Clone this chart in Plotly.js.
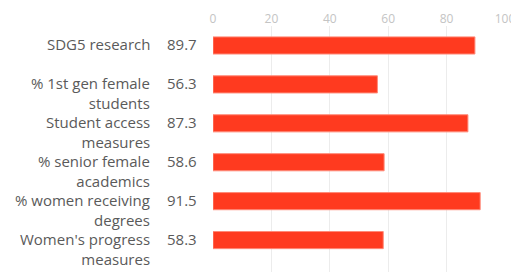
<!DOCTYPE html>
<html><head><meta charset="utf-8">
<script src="https://cdn.plot.ly/plotly-3.0.1.min.js"></script>
<style>html,body{margin:0;padding:0;background:#fff}</style>
</head><body><div id="chart" style="width:511px;height:272px"></div>
<script>
const categories = ["SDG5 research","% 1st gen female<br>students","Student access<br>measures","% senior female<br>academics","% women receiving<br>degrees","Women's progress<br>measures"];
const values = [89.7, 56.3, 87.3, 58.6, 91.5, 58.3];
const valueLabels = ["89.7","56.3","87.3","58.6","91.5","58.3"];
const xTicks = [0,20,40,60,80,100];

const idx = categories.map((c,i)=>i);
const textColor = '#5a5a5a';
const ann = [];
categories.forEach((c,i)=>{
  ann.push({xref:'paper', yref:'y', x:0, y:i, xshift:-62, yshift:12.5, xanchor:'right', yanchor:'top',
    borderpad:0, align:'right',
    text:c, showarrow:false, font:{family:'Open Sans', size:15, color:textColor}});
  ann.push({xref:'paper', yref:'y', x:0, y:i, xshift:-47, yshift:1, xanchor:'left', yanchor:'middle',
    borderpad:0,
    text:valueLabels[i], showarrow:false, font:{family:'Open Sans', size:15, color:textColor}});
});

Plotly.newPlot('chart', [{
  type:'bar', orientation:'h', x:values, y:idx,
  marker:{color:'#ff3a1f', line:{color:'#ff8a78', width:1}},
  width:0.44, hoverinfo:'none'
}], {
  width:511, height:272,
  margin:{l:213, r:6, t:26, b:0, pad:0},
  paper_bgcolor:'#fff', plot_bgcolor:'#fff',
  showlegend:false,
  xaxis:{side:'top', range:[0,100], tickvals:xTicks, ticktext:xTicks.map(String),
    ticklabeloverflow:'allow',
    showgrid:true, gridcolor:'#ececec', gridwidth:1, zeroline:false, showline:false, ticks:'',
    tickfont:{family:'Open Sans', size:12, color:'#c4c4c4'}, fixedrange:true},
  yaxis:{range:[5.82,-0.5], showticklabels:false, showgrid:false, zeroline:false, showline:false, ticks:'', fixedrange:true},
  annotations:ann
}, {displayModeBar:false, staticPlot:true});
</script></body></html>
